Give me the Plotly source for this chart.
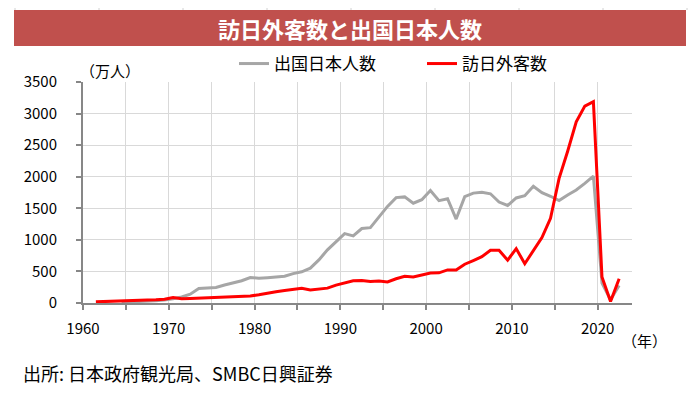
import plotly.graph_objects as go

# ---- data (万人) ----
visitor_years = list(range(1961, 2023))
visitors = [18, 21, 27, 35.3, 36.7, 43.3, 47.7, 51.9, 60.9,
            85.4, 66.1, 72.4, 78.5, 76.4, 81.2, 91.5, 102.8, 103.9, 111.3,
            131.7, 158.3, 179.3, 196.8, 211.0, 232.7, 206.2, 215.5, 235.5, 283.5,
            323.6, 353.3, 358.1, 341.0, 346.8, 334.5, 383.7, 421.8, 410.6, 443.8,
            475.7, 477.2, 523.9, 521.2, 613.8, 672.8, 733.4, 834.7, 835.1, 679.0,
            861.1, 621.9, 836.8, 1036.4, 1341.3, 1973.7, 2404.0, 2869.1, 3119.2, 3188.2,
            411.6, 24.6, 383.2]

outbound_years = list(range(1964, 2023))
outbound = [12.8, 15.9, 21.2, 26.8, 34.4, 49.3,
            66.3, 96.1, 139.2, 228.9, 233.6, 246.6, 285.3, 315.1, 352.6, 403.8,
            390.9, 400.7, 414.1, 423.3, 465.9, 494.8, 551.6, 682.9, 842.7, 966.3,
            1099.7, 1063.4, 1179.1, 1193.4, 1357.9, 1529.8, 1669.5, 1680.3, 1580.6, 1635.8,
            1781.9, 1621.6, 1652.3, 1329.6, 1683.1, 1740.4, 1753.5, 1729.5, 1598.7, 1544.6,
            1663.7, 1699.4, 1849.1, 1747.3, 1690.3, 1621.4, 1711.6, 1788.9, 1895.4, 2008.1,
            317.4, 51.2, 277.2]

tick_years = list(range(1960, 2025, 5))
tick_text = [str(y) if y % 10 == 0 else "" for y in tick_years]
y_ticks = list(range(0, 3501, 500))

title = "訪日外客数と出国日本人数"
source = "出所: 日本政府観光局、SMBC日興証券"

FONT = "Noto Sans CJK JP"
OFF = 8  # default page body margin
W, H = 698 - OFF, 394 - OFF
L, T = 83 - OFF, 82 - OFF
R = W - (632 - OFF)
B = H - (303 - OFF)
pw, ph = W - L - R, H - T - B


def px(x):
    return (x - OFF - L) / pw


def py(y):
    return (H - B - (y - OFF)) / ph


fig = go.Figure()
fig.add_trace(go.Scatter(
    x=[y + 0.5 for y in outbound_years], y=outbound, mode="lines",
    name="出国日本人数", line=dict(color="#A6A6A6", width=3)))
fig.add_trace(go.Scatter(
    x=[y + 0.5 for y in visitor_years], y=visitors, mode="lines",
    name="訪日外客数", line=dict(color="#FF0000", width=3)))

axis_col = "#878787"
grid_col = "#D9D9D9"

fig.update_xaxes(range=[1960, 2024], tickvals=tick_years, ticktext=tick_text,
                 showgrid=True, gridcolor=grid_col, gridwidth=1,
                 ticks="outside", ticklen=5, tickwidth=2, tickcolor=axis_col,
                 showline=True, linecolor=axis_col, linewidth=2,
                 zeroline=False, ticklabelstandoff=6,
                 tickfont=dict(family=FONT, size=15, color="#000000"))
fig.update_yaxes(range=[0, 3500], tickvals=y_ticks,
                 showgrid=True, gridcolor=grid_col, gridwidth=1,
                 ticks="outside", ticklen=5, tickwidth=2, tickcolor=axis_col,
                 showline=True, linecolor=axis_col, linewidth=2,
                 zeroline=False, ticklabelstandoff=16,
                 tickfont=dict(family=FONT, size=15, color="#000000"))

shapes = []
# title bar
shapes.append(dict(type="rect", xref="paper", yref="paper",
                   x0=px(14), x1=px(686), y0=py(46), y1=py(10),
                   fillcolor="#C0504D", line=dict(width=0), layer="below"))
# cell border lines above
for xx in [15, 99, 183, 267, 351, 435, 519, 603, 687]:
    shapes.append(dict(type="line", xref="paper", yref="paper",
                       x0=px(xx), x1=px(xx), y0=py(10), y1=py(OFF),
                       line=dict(color="#D0D0D0", width=1)))

annotations = [
    dict(text=f"<b>{title}</b>", xref="paper", yref="paper",
         x=px(350), y=py(28), xanchor="center", yanchor="middle",
         showarrow=False, font=dict(family=FONT, size=22, color="#FFFFFF")),
    dict(text="（万人）", xref="paper", yref="paper",
         x=px(78), y=py(71), xanchor="left", yanchor="middle",
         showarrow=False, font=dict(family=FONT, size=15, color="#000000")),
    dict(text="（年）", xref="paper", yref="paper",
         x=px(644), y=py(340), xanchor="center", yanchor="middle",
         showarrow=False, font=dict(family=FONT, size=15, color="#000000")),
    dict(text=source, xref="paper", yref="paper",
         x=px(21), y=py(373), xanchor="left", yanchor="middle",
         showarrow=False, font=dict(family=FONT, size=18, color="#000000")),
]

fig.update_layout(
    width=W, height=H,
    margin=dict(l=L, r=R, t=T, b=B),
    paper_bgcolor="#FFFFFF", plot_bgcolor="#FFFFFF",
    font=dict(family=FONT, size=15, color="#000000"),
    showlegend=True,
    legend=dict(orientation="h", x=px(234), y=py(64), xanchor="left",
                yanchor="middle", bgcolor="rgba(0,0,0,0)",
                font=dict(family=FONT, size=17, color="#000000"),
                entrywidth=143, traceorder="normal"),
    shapes=shapes,
    annotations=annotations,
)

fig.write_html("out.html")
